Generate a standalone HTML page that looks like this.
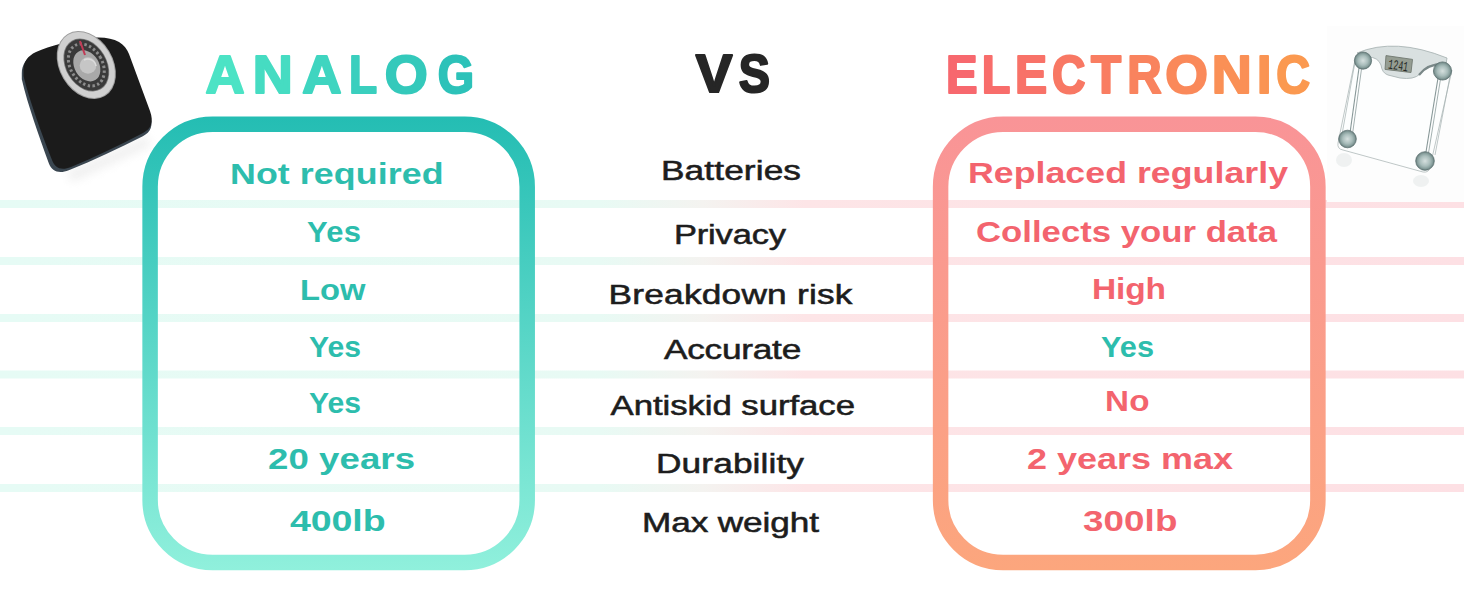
<!DOCTYPE html>
<html><head><meta charset="utf-8"><style>
html,body{margin:0;padding:0;background:#fff;width:1464px;height:600px;overflow:hidden}
svg{display:block;font-family:"Liberation Sans",sans-serif}
</style></head><body>
<svg width="1464" height="600" viewBox="0 0 1464 600">
<defs>
<linearGradient id="stripe" gradientUnits="userSpaceOnUse" x1="0" y1="0" x2="1464" y2="0">
<stop offset="0" stop-color="#e6fbf5"/><stop offset="0.41" stop-color="#e8faf4"/><stop offset="0.48" stop-color="#f4f3f0"/><stop offset="0.55" stop-color="#fde5e7"/><stop offset="1" stop-color="#fde0e4"/>
</linearGradient>
<linearGradient id="tealv" gradientUnits="userSpaceOnUse" x1="0" y1="117" x2="0" y2="570">
<stop offset="0" stop-color="#24bdb3"/><stop offset="1" stop-color="#90f0dc"/>
</linearGradient>
<linearGradient id="pinkv" gradientUnits="userSpaceOnUse" x1="0" y1="117" x2="0" y2="570">
<stop offset="0" stop-color="#f99497"/><stop offset="1" stop-color="#fca67d"/>
</linearGradient>
<linearGradient id="analog" gradientUnits="userSpaceOnUse" x1="205" y1="0" x2="473" y2="0">
<stop offset="0" stop-color="#4fe6c6"/><stop offset="1" stop-color="#2bbfb8"/>
</linearGradient>
<linearGradient id="elec" gradientUnits="userSpaceOnUse" x1="948" y1="0" x2="1310" y2="0">
<stop offset="0" stop-color="#f7666f"/><stop offset="1" stop-color="#fb9b4f"/>
</linearGradient>
</defs>
<rect x="0" y="200" width="1464" height="8" fill="url(#stripe)"/>
<rect x="0" y="257" width="1464" height="8" fill="url(#stripe)"/>
<rect x="0" y="314" width="1464" height="8" fill="url(#stripe)"/>
<rect x="0" y="370.5" width="1464" height="8" fill="url(#stripe)"/>
<rect x="0" y="427" width="1464" height="8" fill="url(#stripe)"/>
<rect x="0" y="484" width="1464" height="8" fill="url(#stripe)"/>
<rect x="150.1" y="124.25" width="377.1" height="438.25" rx="62.5" ry="62.5" fill="none" stroke="url(#tealv)" stroke-width="15.5"/>
<rect x="940.6" y="124.25" width="377.3" height="438.25" rx="62.5" ry="62.5" fill="none" stroke="url(#pinkv)" stroke-width="15.5"/>
<text x="0" y="92.60" font-size="54" font-weight="bold" fill="#4ce3c5" stroke="#4ce3c5" stroke-width="2.2" stroke-linejoin="round" transform="translate(205.40 0) scale(1.0021 1)">A</text>
<text x="0" y="92.60" font-size="54" font-weight="bold" fill="#46dcc2" stroke="#46dcc2" stroke-width="2.2" stroke-linejoin="round" transform="translate(252.87 0) scale(1.0268 1)">N</text>
<text x="0" y="92.60" font-size="54" font-weight="bold" fill="#3fd5c0" stroke="#3fd5c0" stroke-width="2.2" stroke-linejoin="round" transform="translate(302.19 0) scale(1.0076 1)">A</text>
<text x="0" y="92.60" font-size="54" font-weight="bold" fill="#3acfbe" stroke="#3acfbe" stroke-width="2.2" stroke-linejoin="round" transform="translate(349.00 0) scale(0.8535 1)">L</text>
<text x="0" y="92.60" font-size="54" font-weight="bold" fill="#34c9bb" stroke="#34c9bb" stroke-width="2.2" stroke-linejoin="round" transform="translate(384.81 0) scale(1.0234 1)">O</text>
<text x="0" y="92.60" font-size="54" font-weight="bold" fill="#2dc2b9" stroke="#2dc2b9" stroke-width="2.2" stroke-linejoin="round" transform="translate(437.67 0) scale(0.8653 1)">G</text>
<text x="0" y="92.50" font-size="54" font-weight="bold" fill="#262626" stroke="#262626" stroke-width="2.2" stroke-linejoin="round" transform="translate(695.72 0) scale(1.0174 1)">V</text>
<text x="0" y="92.50" font-size="54" font-weight="bold" fill="#262626" stroke="#262626" stroke-width="2.2" stroke-linejoin="round" transform="translate(738.83 0) scale(0.8667 1)">S</text>
<text x="0" y="92.60" font-size="54" font-weight="bold" fill="#f7686e" stroke="#f7686e" stroke-width="2.2" stroke-linejoin="round" transform="translate(945.92 0) scale(0.8758 1)">E</text>
<text x="0" y="92.60" font-size="54" font-weight="bold" fill="#f86d6b" stroke="#f86d6b" stroke-width="2.2" stroke-linejoin="round" transform="translate(981.85 0) scale(0.8679 1)">L</text>
<text x="0" y="92.60" font-size="54" font-weight="bold" fill="#f87268" stroke="#f87268" stroke-width="2.2" stroke-linejoin="round" transform="translate(1015.06 0) scale(0.8923 1)">E</text>
<text x="0" y="92.60" font-size="54" font-weight="bold" fill="#f87864" stroke="#f87864" stroke-width="2.2" stroke-linejoin="round" transform="translate(1052.08 0) scale(0.8587 1)">C</text>
<text x="0" y="92.60" font-size="54" font-weight="bold" fill="#f97d61" stroke="#f97d61" stroke-width="2.2" stroke-linejoin="round" transform="translate(1091.00 0) scale(0.9134 1)">T</text>
<text x="0" y="92.60" font-size="54" font-weight="bold" fill="#f9835e" stroke="#f9835e" stroke-width="2.2" stroke-linejoin="round" transform="translate(1127.20 0) scale(0.8814 1)">R</text>
<text x="0" y="92.60" font-size="54" font-weight="bold" fill="#fa895a" stroke="#fa895a" stroke-width="2.2" stroke-linejoin="round" transform="translate(1165.23 0) scale(1.0154 1)">O</text>
<text x="0" y="92.60" font-size="54" font-weight="bold" fill="#fa9056" stroke="#fa9056" stroke-width="2.2" stroke-linejoin="round" transform="translate(1211.67 0) scale(1.0268 1)">N</text>
<text x="0" y="92.60" font-size="54" font-weight="bold" fill="#fa9453" stroke="#fa9453" stroke-width="2.2" stroke-linejoin="round" transform="translate(1256.92 0) scale(0.9576 1)">I</text>
<text x="0" y="92.60" font-size="54" font-weight="bold" fill="#fb9950" stroke="#fb9950" stroke-width="2.2" stroke-linejoin="round" transform="translate(1276.26 0) scale(0.8672 1)">C</text>
<g transform="translate(731.00 0) scale(1.26 1) translate(-731.00 0)"><text x="731.00" y="179.6" font-size="28" font-weight="normal" text-anchor="middle" textLength="111.11" lengthAdjust="spacing" fill="#1d1d1d"  stroke="#1d1d1d" stroke-width="0.55">Batteries</text></g>
<g transform="translate(730.00 0) scale(1.231 1) translate(-730.00 0)"><text x="730.00" y="244.4" font-size="28" font-weight="normal" text-anchor="middle" textLength="90.98" lengthAdjust="spacing" fill="#1d1d1d"  stroke="#1d1d1d" stroke-width="0.55">Privacy</text></g>
<g transform="translate(730.50 0) scale(1.26 1) translate(-730.50 0)"><text x="730.50" y="303.75" font-size="28" font-weight="normal" text-anchor="middle" textLength="193.65" lengthAdjust="spacing" fill="#1d1d1d"  stroke="#1d1d1d" stroke-width="0.55">Breakdown risk</text></g>
<g transform="translate(732.62 0) scale(1.26 1) translate(-732.62 0)"><text x="732.62" y="359.25" font-size="28" font-weight="normal" text-anchor="middle" textLength="108.93" lengthAdjust="spacing" fill="#1d1d1d"  stroke="#1d1d1d" stroke-width="0.55">Accurate</text></g>
<g transform="translate(732.75 0) scale(1.242 1) translate(-732.75 0)"><text x="732.75" y="415" font-size="28" font-weight="normal" text-anchor="middle" textLength="196.86" lengthAdjust="spacing" fill="#1d1d1d"  stroke="#1d1d1d" stroke-width="0.55">Antiskid surface</text></g>
<g transform="translate(730.00 0) scale(1.26 1) translate(-730.00 0)"><text x="730.00" y="473.4" font-size="28" font-weight="normal" text-anchor="middle" textLength="117.46" lengthAdjust="spacing" fill="#1d1d1d"  stroke="#1d1d1d" stroke-width="0.55">Durability</text></g>
<g transform="translate(730.50 0) scale(1.257 1) translate(-730.50 0)"><text x="730.50" y="532" font-size="28" font-weight="normal" text-anchor="middle" textLength="140.81" lengthAdjust="spacing" fill="#1d1d1d"  stroke="#1d1d1d" stroke-width="0.55">Max weight</text></g>
<g transform="translate(336.80 0) scale(1.194 1) translate(-336.80 0)"><text x="336.80" y="184.3" font-size="30" font-weight="bold" text-anchor="middle" textLength="178.89" lengthAdjust="spacing" fill="#2dbdad" >Not required</text></g>
<g transform="translate(334.00 0) scale(1.032 1) translate(-334.00 0)"><text x="334.00" y="241.8" font-size="30" font-weight="bold" text-anchor="middle" textLength="52.33" lengthAdjust="spacing" fill="#2dbdad" >Yes</text></g>
<g transform="translate(332.75 0) scale(1.092 1) translate(-332.75 0)"><text x="332.75" y="300.5" font-size="30" font-weight="bold" text-anchor="middle" textLength="59.98" lengthAdjust="spacing" fill="#2dbdad" >Low</text></g>
<g transform="translate(335.00 0) scale(1.005 1) translate(-335.00 0)"><text x="335.00" y="357" font-size="30" font-weight="bold" text-anchor="middle" textLength="51.74" lengthAdjust="spacing" fill="#2dbdad" >Yes</text></g>
<g transform="translate(335.00 0) scale(1.005 1) translate(-335.00 0)"><text x="335.00" y="413.25" font-size="30" font-weight="bold" text-anchor="middle" textLength="51.74" lengthAdjust="spacing" fill="#2dbdad" >Yes</text></g>
<g transform="translate(341.50 0) scale(1.22 1) translate(-341.50 0)"><text x="341.50" y="469" font-size="30" font-weight="bold" text-anchor="middle" textLength="120.49" lengthAdjust="spacing" fill="#2dbdad" >20 years</text></g>
<g transform="translate(337.80 0) scale(1.251 1) translate(-337.80 0)"><text x="337.80" y="531" font-size="30" font-weight="bold" text-anchor="middle" textLength="76.42" lengthAdjust="spacing" fill="#2dbdad" >400lb</text></g>
<g transform="translate(1128.00 0) scale(1.188 1) translate(-1128.00 0)"><text x="1128.00" y="182.6" font-size="30" font-weight="bold" text-anchor="middle" textLength="269.36" lengthAdjust="spacing" fill="#f3646e" >Replaced regularly</text></g>
<g transform="translate(1126.50 0) scale(1.156 1) translate(-1126.50 0)"><text x="1126.50" y="242" font-size="30" font-weight="bold" text-anchor="middle" textLength="260.38" lengthAdjust="spacing" fill="#f3646e" >Collects your data</text></g>
<g transform="translate(1129.00 0) scale(1.116 1) translate(-1129.00 0)"><text x="1129.00" y="298.6" font-size="30" font-weight="bold" text-anchor="middle" textLength="66.31" lengthAdjust="spacing" fill="#f3646e" >High</text></g>
<g transform="translate(1127.50 0) scale(1.024 1) translate(-1127.50 0)"><text x="1127.50" y="356.7" font-size="30" font-weight="bold" text-anchor="middle" textLength="51.76" lengthAdjust="spacing" fill="#2dbdad" >Yes</text></g>
<g transform="translate(1127.25 0) scale(1.107 1) translate(-1127.25 0)"><text x="1127.25" y="411" font-size="30" font-weight="bold" text-anchor="middle" textLength="40.20" lengthAdjust="spacing" fill="#f3646e" >No</text></g>
<g transform="translate(1130.00 0) scale(1.199 1) translate(-1130.00 0)"><text x="1130.00" y="469" font-size="30" font-weight="bold" text-anchor="middle" textLength="171.81" lengthAdjust="spacing" fill="#f3646e" >2 years max</text></g>
<g transform="translate(1130.20 0) scale(1.225 1) translate(-1130.20 0)"><text x="1130.20" y="531" font-size="30" font-weight="bold" text-anchor="middle" textLength="77.06" lengthAdjust="spacing" fill="#f3646e" >300lb</text></g>

<g id="analog">
<filter id="blur4" x="-50%" y="-50%" width="200%" height="200%"><feGaussianBlur stdDeviation="5"/></filter>
<path d="M66,172 L148,136 L150,146 L72,182 Z" fill="#d9d9d9" opacity="0.4" filter="url(#blur4)"/>
<path transform="translate(-1.2 1.2)" d="M23,72 C23,64 27,57 36,53 C50,47 70,41 95,38.5 C105,38 113,39.5 119,43 C124,46 127,50 129,55 L151,113 C155,124 152,131 144,135 C120,147 95,159 70,169 C60,173 53,170 50,162 C40,134 29,104 23,78 Z" fill="#3a4650"/>
<path d="M23.5,70 C23.5,62 27.5,56 36,52 C50,46 70,40 95,37.5 C105,37 113,38.5 119,42 C124,45 127,49 129,54 L150,111 C154,122 151,129 143,133 C120,145 95,157 71,167 C61,171 55,168 52,160 C41,132 30,102 23.5,76 Z" fill="#1b1b1b"/>
<g transform="rotate(-31 86.3 65)">
<ellipse cx="86.3" cy="65" rx="26.8" ry="36.3" fill="#9e9e9e"/>
<ellipse cx="86.3" cy="65" rx="25.8" ry="35.2" fill="#d0d0d0"/>
<ellipse cx="86.3" cy="65" rx="20.6" ry="28.4" fill="#7e7e7e"/>
<ellipse cx="86.3" cy="65" rx="19.8" ry="27.5" fill="#3a3a3a"/>
<ellipse cx="86.3" cy="65" rx="16" ry="22.5" fill="none" stroke="#8c8c8c" stroke-width="3" stroke-dasharray="2.4 2.4"/>
<ellipse cx="86.3" cy="66" rx="12.3" ry="16.5" fill="#a9a9a9"/>
</g>
<circle cx="88" cy="65.5" r="8.3" fill="#c6c6c6"/>
<path d="M84,60 A8.3,8.3 0 0 1 96,66" stroke="#dcdcdc" stroke-width="1.5" fill="none"/>
<path d="M80,41 L85,55" stroke="#c23a55" stroke-width="2"/>
</g>


<g id="elec">
<rect x="1327" y="26" width="137" height="176" fill="#fdfdfd"/>
<radialGradient id="foot" cx="0.5" cy="0.5" r="0.5"><stop offset="0" stop-color="#d6e0df"/><stop offset="0.55" stop-color="#a9bdbb"/><stop offset="0.8" stop-color="#8aa19f"/><stop offset="1" stop-color="#667c7b"/></radialGradient>
<g opacity="0.12">
<ellipse cx="1344" cy="160" rx="8" ry="7" fill="#8fa3a2"/>
<ellipse cx="1421" cy="181" rx="8" ry="6" fill="#8fa3a2"/>
</g>
<path d="M1356,55 L1338,143 Q1337,149 1343,150 L1423,172 Q1429,173 1430,167 L1452,70" fill="#fdfefe" stroke="#aeb9b9" stroke-width="0.8"/>
<path d="M1359,68 L1350,133" stroke="#879797" stroke-width="1.1"/>
<path d="M1361.5,69 L1352.5,134" stroke="#9aa8a8" stroke-width="0.9"/>
<path d="M1355,62 L1341,140" stroke="#a3b0b0" stroke-width="0.7"/>
<path d="M1438,78 L1426,152" stroke="#879797" stroke-width="1.1"/>
<path d="M1440.5,79 L1428.5,153" stroke="#9aa8a8" stroke-width="0.9"/>
<path d="M1450,76 L1435,155" stroke="#a3b0b0" stroke-width="0.7"/>
<path d="M1357,53 Q1395,37 1447,58 L1446,64 Q1428,62 1420,74 Q1414,80 1400,78 L1388,75 Q1382,73 1381,65 Q1378,57 1368,57 Z" fill="#d9e0e0" stroke="#a3aeae" stroke-width="0.8"/>
<path d="M1419,75 Q1428,63 1446,64" stroke="#7a8888" stroke-width="2.2" fill="none"/>
<path d="M1386,55.6 L1412.5,59.4 L1411,72.5 L1385,69.4 Z" fill="#959d92" stroke="#6f776f" stroke-width="0.9"/>
<text x="1398.5" y="70" font-size="14" font-family="Liberation Mono" text-anchor="middle" fill="#262a26" transform="rotate(8 1398.5 64)" textLength="20" lengthAdjust="spacingAndGlyphs">1241</text>
<g stroke="#5f7473" stroke-width="0.8">
<circle cx="1363" cy="60.6" r="8.6" fill="url(#foot)"/>
<circle cx="1442.5" cy="71" r="9.1" fill="url(#foot)"/>
<circle cx="1347.5" cy="139" r="8.8" fill="url(#foot)"/>
<circle cx="1425" cy="161" r="9.3" fill="url(#foot)"/>
</g>
</g>

</svg>
</body></html>
